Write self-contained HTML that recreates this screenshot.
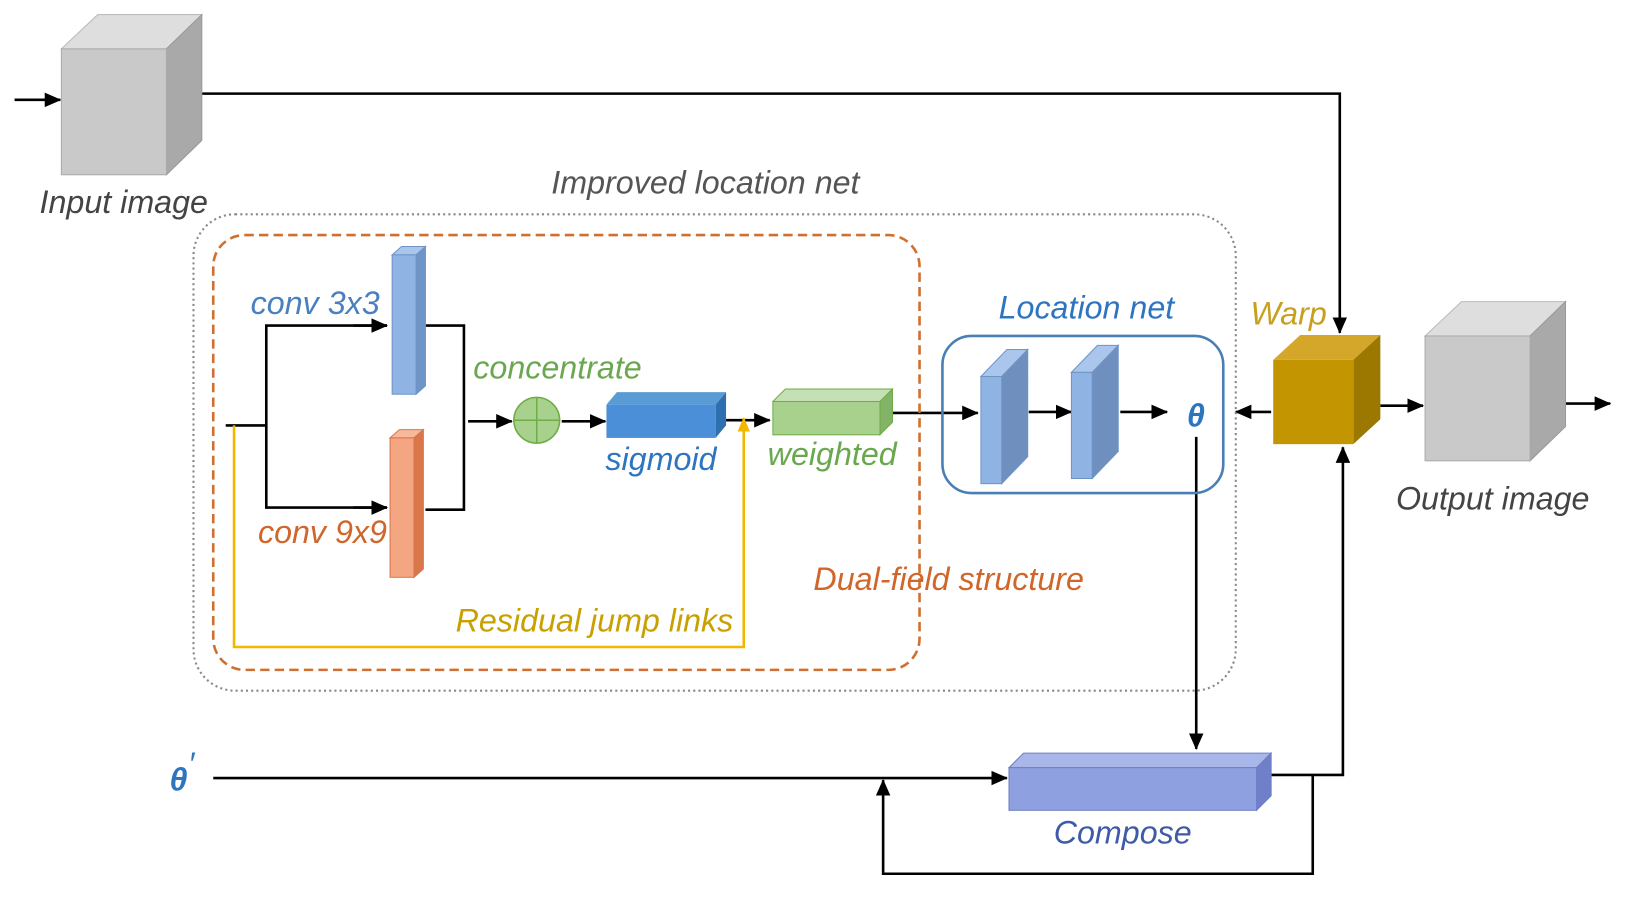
<!DOCTYPE html>
<html><head><meta charset="utf-8"><style>
html,body{margin:0;padding:0;background:#fff;}
svg{display:block}
text{font-family:"Liberation Sans",Arial,sans-serif;font-style:italic;font-size:31px}
</style></head><body>
<svg width="1630" height="906" viewBox="0 0 1567 871" preserveAspectRatio="none" xmlns="http://www.w3.org/2000/svg">
<defs>
<marker id="ab" markerWidth="16" markerHeight="14" refX="15" refY="7" orient="auto" markerUnits="userSpaceOnUse"><path d="M0,0 L16,7 L0,14 z" fill="#000"/></marker>
<marker id="ay" markerWidth="14" markerHeight="12" refX="13" refY="6" orient="auto" markerUnits="userSpaceOnUse"><path d="M0,0 L14,6 L0,12 z" fill="#f2b800"/></marker>
</defs>
<g stroke="#000" stroke-width="2.5" fill="none">
<line x1="14" y1="96" x2="58" y2="96" marker-end="url(#ab)"/>
<polyline points="194,90 1288,90 1288,320" marker-end="url(#ab)"/>
<line x1="217" y1="409" x2="256" y2="409"/>
<polyline points="372,313 256,313 256,488 372,488"/>
<line x1="340" y1="313" x2="372" y2="313" marker-end="url(#ab)"/>
<line x1="340" y1="488" x2="372" y2="488" marker-end="url(#ab)"/>
<polyline points="409,313 446,313 446,490 409,490"/>
<line x1="450" y1="405" x2="492" y2="405" marker-end="url(#ab)"/>
<line x1="540" y1="405" x2="582" y2="405" marker-end="url(#ab)"/>
<line x1="698" y1="404" x2="740" y2="404" marker-end="url(#ab)"/>
<line x1="858" y1="397" x2="940" y2="397" marker-end="url(#ab)"/>
<line x1="989" y1="396" x2="1030" y2="396" marker-end="url(#ab)"/>
<line x1="1077" y1="396" x2="1122" y2="396" marker-end="url(#ab)"/>
<line x1="1222" y1="396" x2="1188" y2="396" marker-end="url(#ab)"/>
<line x1="1150" y1="420" x2="1150" y2="720" marker-end="url(#ab)"/>
<line x1="1327" y1="390" x2="1368" y2="390" marker-end="url(#ab)"/>
<line x1="1505" y1="388" x2="1548" y2="388" marker-end="url(#ab)"/>
<line x1="205" y1="748" x2="968" y2="748" marker-end="url(#ab)"/>
<polyline points="1222,745 1291,745 1291,430" marker-end="url(#ab)"/>
<polyline points="1262,745 1262,840 849,840 849,750" marker-end="url(#ab)"/>
</g>
<polyline points="225,409 225,622 715,622 715,402" fill="none" stroke="#f2b800" stroke-width="2.5" marker-end="url(#ay)"/>
<rect x="186" y="206" width="1002" height="458" rx="40" fill="none" stroke="#888" stroke-width="2" stroke-dasharray="2,3"/>
<rect x="205" y="226" width="679" height="418" rx="30" fill="none" stroke="#d07030" stroke-width="2.5" stroke-dasharray="9,5"/>
<rect x="906" y="323" width="270" height="151" rx="28" fill="none" stroke="#4a7fb5" stroke-width="2.5"/>
<polygon points="59,47 94,14 194,14 160,47" fill="#dedede" stroke="#bbb"/>
<polygon points="160,47 194,14 194,135 160,168" fill="#a9a9a9" stroke="#999"/>
<rect x="59" y="47" width="101" height="121" fill="#c9c9c9" stroke="#aaa"/>
<polygon points="1370,323 1405,290 1505,290 1471,323" fill="#dedede" stroke="#bbb"/>
<polygon points="1471,323 1505,290 1505,410 1471,443" fill="#a9a9a9" stroke="#999"/>
<rect x="1370" y="323" width="101" height="120" fill="#c9c9c9" stroke="#aaa"/>
<polygon points="1224,346 1250,322 1327,322 1301,346" fill="#d4a62a"/>
<polygon points="1301,346 1327,322 1327,403 1301,427" fill="#9c7800"/>
<rect x="1224" y="346" width="77" height="81" fill="#c39500"/>
<polygon points="377,245 386,237 409,237 400,245" fill="#aac6ec" stroke="#6f95c8"/>
<polygon points="400,245 409,237 409,371 400,379" fill="#6f95c8" stroke="#6f95c8"/>
<rect x="377" y="245" width="23" height="134" fill="#8fb4e3" stroke="#6f95c8"/>
<polygon points="375,421 384,413 407,413 398,421" fill="#f7b99a" stroke="#d9774a"/>
<polygon points="398,421 407,413 407,547 398,555" fill="#d9774a" stroke="#d9774a"/>
<rect x="375" y="421" width="23" height="134" fill="#f4a582" stroke="#d9774a"/>
<circle cx="516" cy="404" r="22" fill="#a9d18e" stroke="#70ad47" stroke-width="1.5"/>
<line x1="494" y1="404" x2="538" y2="404" stroke="#70ad47" stroke-width="1.5"/>
<line x1="516" y1="382" x2="516" y2="426" stroke="#70ad47" stroke-width="1.5"/>
<polygon points="583,389 593,377 698,377 688,389" fill="#5b9bd5"/>
<polygon points="688,389 698,377 698,409 688,421" fill="#2e6fb0"/>
<rect x="583" y="389" width="105" height="32" fill="#4a8fd8"/>
<polygon points="743,386 755,374 858,374 846,386" fill="#c5e0b4" stroke="#70ad47"/>
<polygon points="846,386 858,374 858,406 846,418" fill="#82b366" stroke="#70ad47"/>
<rect x="743" y="386" width="103" height="32" fill="#a9d18e" stroke="#70ad47"/>
<polygon points="943,362 968,336 988,336 963,362" fill="#aac6ec" stroke="#6f95c8"/>
<polygon points="963,362 988,336 988,439 963,465" fill="#6f8fbf" stroke="#6f95c8"/>
<rect x="943" y="362" width="20" height="103" fill="#8fb4e3" stroke="#6f95c8"/>
<polygon points="1030,358 1055,332 1075,332 1050,358" fill="#aac6ec" stroke="#6f95c8"/>
<polygon points="1050,358 1075,332 1075,434 1050,460" fill="#6f8fbf" stroke="#6f95c8"/>
<rect x="1030" y="358" width="20" height="102" fill="#8fb4e3" stroke="#6f95c8"/>
<polygon points="970,738 984,724 1222,724 1208,738" fill="#a8b6ea" stroke="#6f7fc8"/>
<polygon points="1208,738 1222,724 1222,765 1208,779" fill="#6f7fc8" stroke="#6f7fc8"/>
<rect x="970" y="738" width="238" height="41" fill="#8fa0e0" stroke="#6f7fc8"/>
<text x="38" y="205" fill="#444">Input image</text>
<text x="530" y="186" fill="#555">Improved location net</text>
<text x="241" y="302" fill="#4a7fc0">conv 3x3</text>
<text x="455" y="364" fill="#6aa84f">concentrate</text>
<text x="582" y="452" fill="#2e75c0">sigmoid</text>
<text x="738" y="447" fill="#6aa84f">weighted</text>
<text x="248" y="522" fill="#d0662a">conv 9x9</text>
<text x="782" y="567" fill="#d0662a">Dual-field structure</text>
<text x="438" y="607" fill="#c8a000">Residual jump links</text>
<text x="960" y="306" fill="#2e75c0">Location net</text>
<text x="1141" y="410" fill="#2e75c0" font-weight="bold">θ</text>
<text x="1202" y="312" fill="#c8a020">Warp</text>
<text x="1342" y="490" fill="#444">Output image</text>
<text x="1013" y="811" fill="#3e5aa8">Compose</text>
<text x="163" y="760" fill="#2e75c0" font-weight="bold">θ</text>
<text x="181" y="745" fill="#2e75c0" font-size="14">′</text>
</svg>
</body></html>
